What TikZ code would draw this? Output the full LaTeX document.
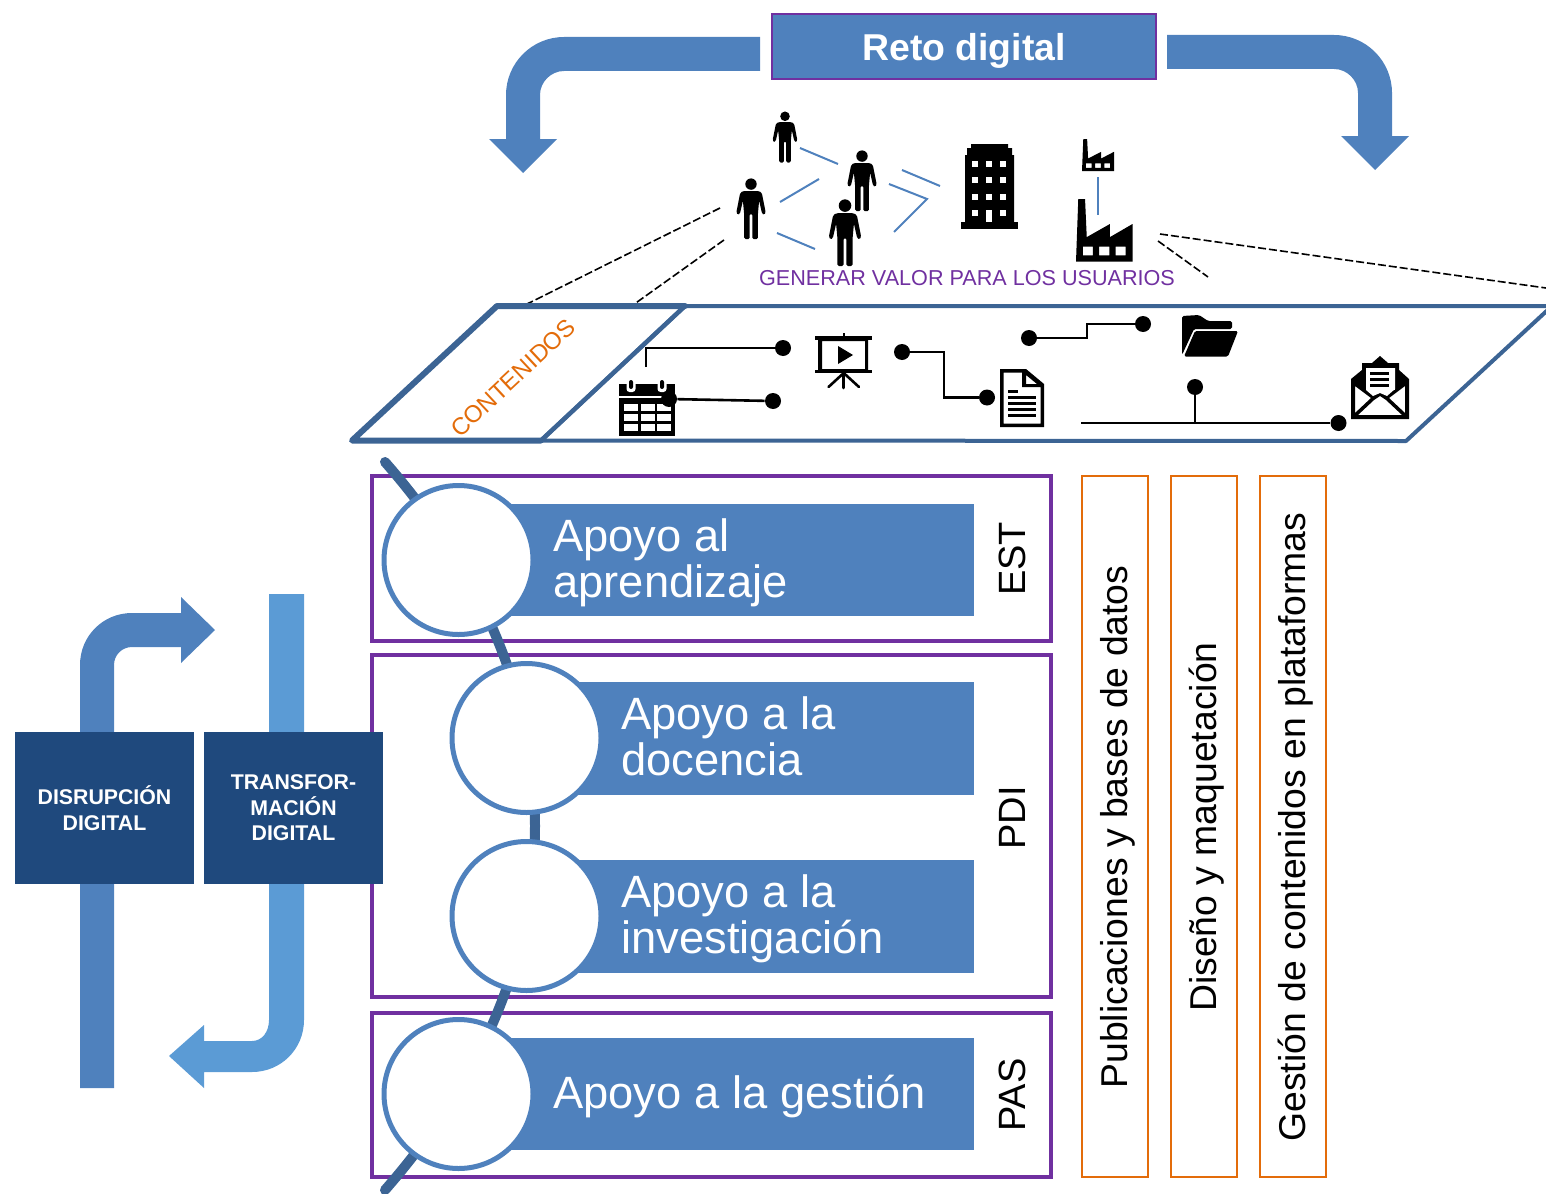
\documentclass[tikz,border=0pt]{standalone}
\usepackage{fontspec}
\setmainfont{Liberation Sans}
\definecolor{bandblue}{HTML}{4F81BD}
\definecolor{lightband}{HTML}{5B9BD5}
\definecolor{darkbox}{HTML}{1F497D}
\definecolor{slate}{HTML}{3C6494}
\definecolor{purp}{HTML}{7030A0}
\definecolor{orng}{HTML}{E36C0A}
\tikzset{
  px/.style={line width=#1*0.5pt},
  purplebox/.style={draw=purp,px=4.5,fill=none},
  orangebox/.style={draw=orng,px=2.2,fill=none},
  rowbar/.style={fill=bandblue,draw=none},
  ringnode/.style={circle,draw=bandblue,fill=white,px=5,minimum size=149*0.5pt,inner sep=0pt},
  rowtext/.style={anchor=west,align=left,text=white,inner sep=0pt,font=\fontsize{22.65}{23.2}\selectfont},
  sidetext/.style={rotate=90,inner sep=0pt,font=\fontsize{18.67}{20}\selectfont},
  grouptext/.style={rotate=90,inner sep=0pt,font=\fontsize{19}{20}\selectfont},
  darkbx/.style={fill=darkbox,draw=none,text=white,align=center,font=\fontsize{10.65}{12.8}\selectfont\bfseries,inner sep=0pt},
  thinblue/.style={draw=bandblue,px=2},
  dashline/.style={draw=black,px=1.6,dash pattern=on 4pt off 1.5pt},
  wire/.style={draw=black,px=2.6},
  dotnode/.style={circle,fill=black,draw=none,minimum size=16*0.5pt,inner sep=0pt},
}
\newcommand{\personicon}[3]{%
 \begin{scope}[shift={(#1,#2)},scale=#3]
  \fill[black] (0,8.5) circle[radius=9.5];
  \fill[black,rounded corners=0.7pt] (-13,20) -- (13,20) -- (18,23) -- (24.5,56) -- (22,60) -- (18.5,58) -- (13.5,36) -- (11.5,58) -- (11.5,100) -- (2.2,100) -- (2.2,58) -- (-2.2,58) -- (-2.2,100) -- (-11.5,100) -- (-11.5,58) -- (-13.5,36) -- (-18.5,58) -- (-22,60) -- (-24.5,56) -- (-18,23) -- cycle;
 \end{scope}}
\newcommand{\factoryicon}[4]{%
 \begin{scope}[shift={(#1,#2)},xscale=#3,yscale=#4]
  \fill[black,even odd rule] (4,0) -- (16,0) -- (19,61) -- (60,40) -- (60,61) -- (100,40) -- (100,100) -- (0,100) -- cycle
   (12,76) rectangle (30,90) (41,76) rectangle (59,90) (70,76) rectangle (88,90);
 \end{scope}}
\begin{document}
\begin{tikzpicture}[x=0.5pt,y=-0.5pt]
\useasboundingbox (0,0) rectangle (1546,1193);
\clip (0,0) rectangle (1546,1193);

% --- Top arrows
\fill[bandblue] (760,37) -- (564,37) .. controls (532,37) and (506,63) .. (506,95) -- (506,139) -- (489,139) -- (523,173) -- (557,139) -- (540,139) -- (540,95) .. controls (540,82) and (551,71) .. (564,71) -- (760,71) -- cycle;
\fill[bandblue] (1167,35) -- (1334,35) .. controls (1366,35) and (1392,61) .. (1392,93) -- (1392,136) -- (1409,136) -- (1375,170) -- (1341,136) -- (1358,136) -- (1358,93) .. controls (1358,80) and (1347,69) .. (1334,69) -- (1167,69) -- cycle;

\node[draw=purp,px=2,fill=bandblue,minimum width=384*0.5pt,minimum height=65*0.5pt,inner sep=0pt] (reto) at (964,46.5) {};
\node[text=white,inner sep=0pt,font=\fontsize{18.7}{20}\selectfont\bfseries] (retot) at (964,51) {Reto digital};

% --- People
\personicon{785}{112}{0.505}
\personicon{862}{151}{0.60}
\personicon{751}{179}{0.60}
\personicon{845}{200}{0.66}

% --- Thin blue links
\coordinate (la1) at (800,148); \coordinate (la2) at (838,164);
\coordinate (lb1) at (819,179); \coordinate (lb2) at (780,202);
\coordinate (lc1) at (777,233); \coordinate (lc2) at (815,249);
\coordinate (ld1) at (902,170); \coordinate (ld2) at (940,186);
\coordinate (le1) at (889,184); \coordinate (le2) at (927,199); \coordinate (le3) at (894,232);
\coordinate (lf1) at (1098,177); \coordinate (lf2) at (1098,215);
\draw[thinblue] (la1) -- (la2);
\draw[thinblue] (lb1) -- (lb2);
\draw[thinblue] (lc1) -- (lc2);
\draw[thinblue] (ld1) -- (ld2);
\draw[thinblue] (le1) -- (le2) -- (le3);
\draw[thinblue] (lf1) -- (lf2);

% --- Building
\fill[black] (961,222) rectangle (1018,229);
\fill[black] (965,222) -- (965,155) -- (967,155) -- (967,148) -- (971,148) -- (971,144) -- (1008,144) -- (1008,148) -- (1012,148) -- (1012,155) -- (1014,155) -- (1014,222) -- cycle;
\foreach \xx in {975,989,1003}{\foreach \yy in {164,180,197}{\fill[white] (\xx-3,\yy-3) rectangle (\xx+3,\yy+3);}}
\fill[white] (972,210) rectangle (978,216);
\fill[white] (1000,210) rectangle (1006,216);
\fill[white] (986,210) rectangle (992,222);

% --- Factories
\factoryicon{1082}{139}{0.32}{0.32}
\factoryicon{1076}{199}{0.565}{0.625}

% --- Dashed projection lines
\coordinate (da1) at (720,208); \coordinate (da2) at (525,305);
\coordinate (db1) at (724,240); \coordinate (db2) at (633,305);
\coordinate (dc1) at (1160,234); \coordinate (dc2) at (1546,288);
\coordinate (dd1) at (1158,241); \coordinate (dd2) at (1208,277);
\draw[dashline] (da1) -- (da2);
\draw[dashline] (db1) -- (db2);
\draw[dashline] (dc1) -- (dc2);
\draw[dashline] (dd1) -- (dd2);

\node[text=purp,inner sep=0pt,font=\fontsize{10.8}{13}\selectfont] (valor) at (967,278) {GENERAR VALOR PARA LOS USUARIOS};

% --- Platform parallelogram
\coordinate (pa) at (352,440.5); \coordinate (pb) at (497,306); \coordinate (pc) at (685,306); \coordinate (pd) at (541,440.5);
\coordinate (pe) at (1552,306); \coordinate (pf) at (1406,441);
\draw[draw=slate,px=4,line join=round] (pc) -- (pe) -- (pf) -- (pd) -- cycle;
\draw[draw=slate,px=6,line join=round,line cap=round] (pd) -- (pa) -- (pb) -- (pc);
\draw[draw=slate,px=4.5] (pc) -- (pd);
\node[text=orng,rotate=43,inner sep=0pt,font=\fontsize{12}{15}\selectfont] (cont) at (513,378) {CONTENIDOS};

% --- Calendar
\fill[black] (619,384) rectangle (675,436);
\foreach \xx in {631,662}{
  \fill[white,rounded corners=1.5pt] (\xx-4.5,380) rectangle (\xx+4.5,392);
  \fill[black,rounded corners=1pt] (\xx-2,380) rectangle (\xx+2,389);
}
\fill[white] (619,395.5) rectangle (675,398);
\foreach \xx in {624,641,657}{\foreach \yy in {404,414,424}{\fill[white] (\xx,\yy) rectangle (\xx+13.5,\yy+7);}}

% --- Projector
\fill[black,even odd rule] (818,339) rectangle (868,372) (822,341) rectangle (865,369);
\fill[black] (815,336) rectangle (872,339.5);
\fill[black] (815,370) rectangle (872,373);
\fill[black] (842.5,333) rectangle (845,337);
\fill[black] (838,346) -- (853,355) -- (838,364) -- cycle;
\draw[black,px=2.6,line cap=round] (843.7,372) -- (843.7,388);
\draw[black,px=2.6,line cap=round] (843.7,373) -- (828.5,387);
\draw[black,px=2.6,line cap=round] (843.7,373) -- (859,387);

% --- Document
\fill[black,even odd rule] (1000,369) -- (1026,369) -- (1044,384) -- (1044,427) -- (1000,427) -- cycle
  (1003.5,372.5) -- (1022,372.5) -- (1022,387) -- (1040.5,387) -- (1040.5,423.5) -- (1003.5,423.5) -- cycle
  (1026,375) -- (1037,384) -- (1026,384) -- cycle;
\fill[black] (1008,390) rectangle (1018,392.5);
\foreach \yy in {396,402,408,413.5}{\fill[black] (1008,\yy) rectangle (1036,\yy+3);}

% --- Folder
\fill[black,rounded corners=0.8pt] (1182,355) -- (1182,316) -- (1199,315) -- (1208,321) -- (1232,321) -- (1232,329) -- (1194,329) -- cycle;
\fill[black,rounded corners=0.8pt] (1195,331) -- (1238,331) -- (1228,356.5) -- (1184,356.5) -- cycle;

% --- Envelope
\fill[black,even odd rule] (1351,379) -- (1362,370) -- (1362,363) -- (1372,363) -- (1380,356) -- (1388,363) -- (1399,363) -- (1399,370) -- (1409,379) -- (1409,419) -- (1351,419) -- cycle
  (1366,368) rectangle (1395,390)
  (1355,386) -- (1371,398) -- (1355,413) -- cycle
  (1405,386) -- (1389,398) -- (1405,413) -- cycle
  (1358,415) -- (1374,400) -- (1380,396) -- (1386,400) -- (1402,415) -- cycle;
\fill[white] (1366,368) -- (1395,368) -- (1395,389) -- (1387,396) -- (1380,393) -- (1373,396) -- (1366,390) -- cycle;
\foreach \yy in {372,378,384}{\fill[black] (1370,\yy) rectangle (1389,\yy+2.6);}

% --- Circuit wires and dots
\coordinate (wa) at (646,367); \coordinate (wb) at (646,348);
\node[dotnode] (d1) at (783,348) {};
\node[dotnode] (d2) at (773,401) {};
\node[dotnode] (d3) at (669,399) {};
\node[dotnode] (d4) at (902,352) {};
\node[dotnode] (d5) at (987,397.5) {};
\node[dotnode] (d6) at (1029,338) {};
\node[dotnode] (d7) at (1143,324) {};
\node[dotnode] (d8) at (1195,387) {};
\node[dotnode] (d9) at (1338.5,423) {};
\coordinate (wc) at (944,352); \coordinate (wd) at (944,397.5);
\coordinate (we) at (1087,338); \coordinate (wf) at (1087,324);
\coordinate (wg) at (1081,423); \coordinate (wh) at (1195,423);
\draw[wire] (wa) -- (wb) -- (d1);
\draw[wire] (d3) -- (d2);
\draw[wire] (d4) -- (wc) -- (wd) -- (d5);
\draw[wire] (d6) -- (we) -- (wf) -- (d7);
\draw[wire] (wg) -- (d9);
\draw[wire] (wh) -- (d8);

% --- Group boxes
\draw[purplebox] (372,476) rectangle (1051,641);
\draw[purplebox] (372,655) rectangle (1051,997);
\draw[purplebox] (372,1013) rectangle (1051,1177);

% --- Spine
\coordinate (sa) at (385,462); \coordinate (sb) at (385,1190);
\draw[draw=slate,px=10,line cap=round] (sa) .. controls (585,690) and (585,962) .. (sb);

% --- Rows
\fill[rowbar] (470,504) rectangle (974,616);
\fill[rowbar] (540,682) rectangle (974,794.5);
\fill[rowbar] (540,860) rectangle (974,972.5);
\fill[rowbar] (470,1038) rectangle (974,1150);
\node[ringnode] (c1) at (458.5,560) {};
\node[ringnode] (c2) at (526.5,738) {};
\node[ringnode] (c3) at (526.5,916) {};
\node[ringnode] (c4) at (458.5,1094) {};
\node[rowtext] (t1) at (553,563) {Apoyo al\\aprendizaje};
\node[rowtext] (t2) at (621,736) {Apoyo a la\\docencia};
\node[rowtext] (t3) at (621,919) {Apoyo a la\\investigación};
\node[rowtext] (t4) at (553,1097) {Apoyo a la gestión};

\node[grouptext] (est) at (1012,559) {EST};
\node[grouptext] (pdi) at (1012,818) {PDI};
\node[grouptext] (pas) at (1012,1095) {PAS};

% --- Orange columns
\draw[orangebox] (1082,476) rectangle (1148,1177);
\draw[orangebox] (1171,476) rectangle (1237,1177);
\draw[orangebox] (1260,476) rectangle (1326,1177);
\node[sidetext] (s1) at (1118,827) {Publicaciones y bases de datos};
\node[sidetext] (s2) at (1207,827) {Diseño y maquetación};
\node[sidetext] (s3) at (1296,827) {Gestión de contenidos en plataformas};

% --- Left arrows
\fill[bandblue] (80,1088) -- (80,665) .. controls (80,636) and (103,613) .. (132,613) -- (181,613) -- (181,597) -- (215,630) -- (181,663) -- (181,647) -- (132,647) .. controls (122,647) and (114,655) .. (114,665) -- (114,1088) -- cycle;
\fill[lightband] (269,594) -- (304,594) -- (304,1020) .. controls (304,1049) and (281,1072) .. (252,1072) -- (204,1072) -- (204,1088) -- (169,1056) -- (204,1025) -- (204,1041) -- (252,1041) .. controls (262,1041) and (269,1032) .. (269,1020) -- cycle;

\node[darkbx,minimum width=179*0.5pt,minimum height=152*0.5pt] (dis) at (104.5,808) {DISRUPCIÓN\\DIGITAL};
\node[darkbx,minimum width=179*0.5pt,minimum height=152*0.5pt] (tra) at (293.5,808) {TRANSFOR-\\MACIÓN\\DIGITAL};
\end{tikzpicture}
\end{document}
